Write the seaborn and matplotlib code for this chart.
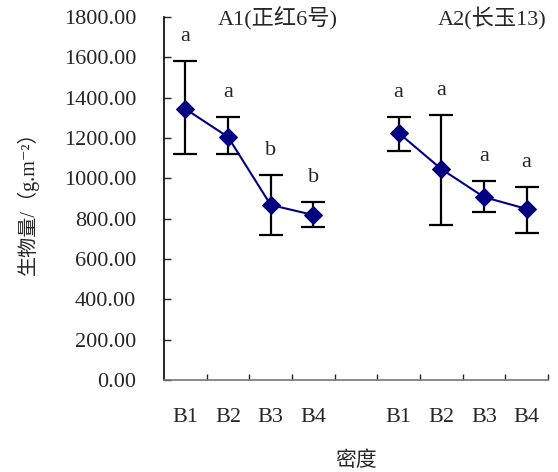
import matplotlib.pyplot as plt
import seaborn as sns
import numpy as np
import pandas as pd
from matplotlib.ticker import FormatStrFormatter

sns.set_style("white")
plt.rcParams['font.family'] = ['Liberation Serif', 'Noto Sans CJK SC', 'DejaVu Sans']

groups = ['A1(正红6号)', 'A2(长玉13)']
densities = ['B1', 'B2', 'B3', 'B4']
a1_mean = [1344, 1205, 868, 818]
a1_upper = [1582, 1304, 1017, 883]
a1_lower = [1121, 1121, 718, 759]
a1_letters = ['a', 'a', 'b', 'b']
a2_mean = [1225, 1046, 907, 848]
a2_upper = [1304, 1314, 987, 957]
a2_lower = [1136, 769, 833, 729]
a2_letters = ['a', 'a', 'a', 'a']

# positions on a categorical axis with an empty slot between the groups
pos_a1 = [0, 1, 2, 3]
pos_a2 = [5, 6, 7, 8]

df = pd.DataFrame({
    'pos': pos_a1 + pos_a2,
    'value': a1_mean + a2_mean,
    'upper': a1_upper + a2_upper,
    'lower': a1_lower + a2_lower,
    'letter': a1_letters + a2_letters,
    'group': [groups[0]] * 4 + [groups[1]] * 4,
})

fig = plt.figure(figsize=(5.58, 4.72), dpi=100)
ax = fig.add_axes([0.294, 0.195, 0.688, 0.769])

navy = '#000080'
ax.errorbar(df['pos'], df['value'],
            yerr=[df['value'] - df['lower'], df['upper'] - df['value']],
            fmt='none', ecolor='black', elinewidth=1.6, capsize=8.5, capthick=1.6, zorder=2)
sns.lineplot(data=df, x='pos', y='value', units='group', estimator=None,
             color=navy, marker='D', markersize=9, markeredgecolor=navy,
             linewidth=1.5, ax=ax, zorder=3)

for _, r in df.iterrows():
    ax.text(r['pos'], r['upper'] + 75, r['letter'], ha='center', va='bottom', fontsize=16)

ax.text(np.mean(pos_a1) + 0.67, 1790, groups[0], ha='center', va='center', fontsize=16)
ax.text(np.mean(pos_a2) + 0.7, 1790, groups[1], ha='center', va='center', fontsize=16)

ax.set_xlim(-0.5, 8.5)
ax.set_ylim(0, 1800)
ax.set_yticks(np.arange(0, 1801, 200))
ax.yaxis.set_major_formatter(FormatStrFormatter('%.2f'))
ax.set_xticks(pos_a1 + pos_a2)
ax.set_xticklabels(densities + densities)
ax.set_xticks(np.arange(0.5, 8.6, 1), minor=True)
ax.tick_params(axis='x', which='major', length=0, pad=20, labelsize=16)
ax.tick_params(axis='x', which='minor', direction='in', length=4, width=1, bottom=True)
ax.tick_params(axis='y', direction='in', length=5, width=1, left=True, labelsize=16, pad=20)

for s in ['top', 'right']:
    ax.spines[s].set_visible(False)
for s in ['left', 'bottom']:
    ax.spines[s].set_color('black')
    ax.spines[s].set_linewidth(1.2)
ax.spines['bottom'].set_color('#777777')

ax.set_xlabel('密度', fontsize=15, labelpad=18)
ax.set_ylabel('生物量/（g.m⁻²）', fontsize=14.5, labelpad=18)

fig.savefig('out.png', dpi=100)
